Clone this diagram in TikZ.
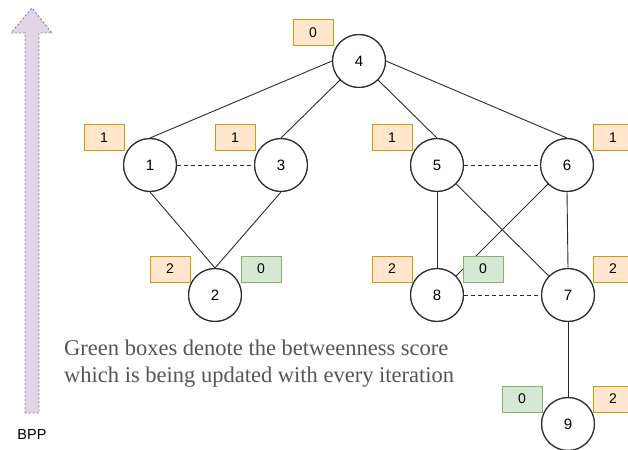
\documentclass[tikz,border=0pt]{standalone}
\usepackage{fontspec}
\setmainfont{Liberation Serif}
\setsansfont{Liberation Sans}
\definecolor{boxfillA}{HTML}{FFE6CC}
\definecolor{boxlineA}{HTML}{D79B00}
\definecolor{boxfillB}{HTML}{D5E8D4}
\definecolor{boxlineB}{HTML}{82B366}
\definecolor{arrowfill}{HTML}{E1D5E7}
\definecolor{arrowline}{HTML}{9673A6}
\definecolor{edgecol}{HTML}{2B2B2B}
\definecolor{notecol}{HTML}{555555}
\begin{document}
\begin{tikzpicture}[x=1pt,y=-1pt,
  vtx/.style={circle,draw=edgecol,fill=white,line width=1pt,minimum size=53pt,inner sep=0pt,font=\sffamily\fontsize{15}{17}\selectfont},
  score/.style={draw=boxlineA,fill=boxfillA,line width=1pt,minimum width=40pt,minimum height=26pt,inner sep=0pt,font=\sffamily\fontsize{14}{16}\selectfont},
  upd/.style={score,draw=boxlineB,fill=boxfillB},
  link/.style={draw=edgecol,line width=0.9pt},
  hop/.style={link,dash pattern=on 4pt off 3pt}]
\useasboundingbox (0,0) rectangle (628,449);

% upward arrow on the left
\draw[arrowline,fill=arrowfill,line width=0.9pt,dash pattern=on 2pt off 2pt]
  (25,413) -- (25,33) -- (11,33) -- (32,8) -- (52,33) -- (39,33) -- (39,413) -- cycle;
\node[font=\sffamily\fontsize{14.5}{16}\selectfont,anchor=base] (bpp) at (32,439) {BPP};

% vertices
\node[vtx] (n4) at (359,61) {4};
\node[vtx] (n1) at (150,165) {1};
\node[vtx] (n3) at (281,165) {3};
\node[vtx] (n2) at (215,295) {2};
\node[vtx] (n5) at (437,165) {5};
\node[vtx] (n6) at (567,165) {6};
\node[vtx] (n8) at (437,295) {8};
\node[vtx] (n7) at (568,295) {7};
\node[vtx] (n9) at (568,424) {9};

% edges
\draw[link] (n4.west) -- (n1.north);
\draw[link] (n4.south west) -- (n3.north);
\draw[link] (n4.south east) -- (n5.north);
\draw[link] (n4.east) -- (n6.north);
\draw[hop] (n1.east) -- (n3.west);
\draw[link] (n1.south) -- (n2.north);
\draw[link] (n3.south) -- (n2.north);
\draw[hop] (n5.east) -- (n6.west);
\draw[link] (n5.south) -- (n8.north);
\draw[link] (n5) -- (n7);
\draw[link] (n6) -- (n8);
\draw[link] (n6.south) -- (n7.north);
\draw[hop] (n8.east) -- (n7.west);
\draw[link] (n7.south) -- (n9.north);

% redraw the circles over the edge ends
\foreach \v in {n4,n1,n3,n2,n5,n6,n8,n7,n9}
  \draw[edgecol,line width=1pt] (\v) circle (26.5pt);

% scores
\node[score] (s4) at (313,33) {0};
\node[score] (s1) at (104,138) {1};
\node[score] (s3) at (235,138) {1};
\node[score] (s2) at (170,269) {2};
\node[upd]   (u2) at (261,269) {0};
\node[score] (s5) at (392,138) {1};
\node[score] (s6) at (613,138) {1};
\node[score] (s8) at (392,269) {2};
\node[upd]   (u8) at (483,269) {0};
\node[score] (s7) at (613,269) {2};
\node[upd]   (u9) at (522,399) {0};
\node[score] (s9) at (613,399) {2};

% note
\node[anchor=north west,align=left,text=notecol,inner sep=0pt,
  font=\fontsize{22.5}{27}\selectfont] (note) at (64,340)
  {Green boxes denote the betweenness score\\which is being updated with every iteration};
\end{tikzpicture}
\end{document}
